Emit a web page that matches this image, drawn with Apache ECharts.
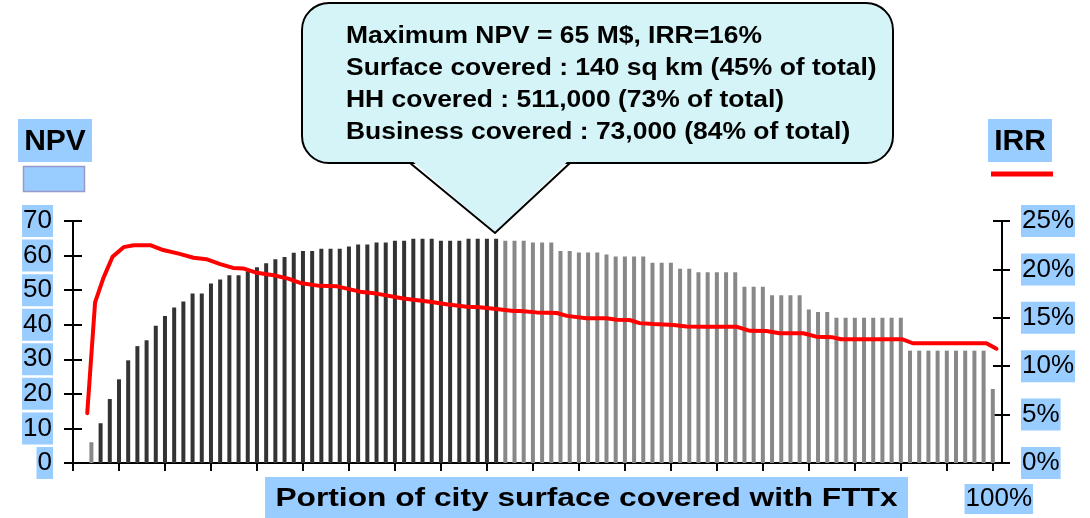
<!DOCTYPE html>
<html>
<head>
<meta charset="utf-8">
<title>NPV / IRR vs FTTx coverage</title>
<script src="https://cdn.jsdelivr.net/npm/echarts@6/dist/echarts.min.js"></script>
<style>
  html, body { margin: 0; padding: 0; background: #fff; }
  #chart { width: 1090px; height: 518px; }
</style>
</head>
<body>
<div id="chart"></div>
<script>
// portion of city surface covered (%) for each NPV bar
const npvCoverage = [2, 3, 4, 5, 6, 7, 8, 9, 10, 11, 12, 13, 14, 15, 16, 17, 18, 19, 20, 21,
  22, 23, 24, 25, 26, 27, 28, 29, 30, 31, 32, 33, 34, 35, 36, 37, 38, 39, 40, 41,
  42, 43, 44, 45, 46, 47, 48, 49, 50, 51, 52, 53, 54, 55, 56, 57, 58, 59, 60, 61,
  62, 63, 64, 65, 66, 67, 68, 69, 70, 71, 72, 73, 74, 75, 76, 77, 78, 79, 80, 81,
  82, 83, 84, 85, 86, 87, 88, 89, 90, 91, 92, 93, 94, 95, 96, 97, 98, 99, 100];
// NPV in M$
const npvValues = [6, 11.5, 18.5, 24.2, 29.7, 33.8, 35.5, 39.7, 42.5, 45,
  46.7, 49, 49, 51.9, 53.1, 54.3, 54.3, 55.5, 56.6, 57.8,
  58.9, 59.6, 60.8, 61.3, 61.3, 62, 62, 62, 62.6, 63.2,
  63.2, 63.8, 63.8, 64.3, 64.3, 64.9, 64.9, 64.9, 64.3, 64.3,
  64.3, 64.9, 64.9, 64.9, 64.9, 64.3, 64.3, 64.3, 63.8, 63.8,
  63.8, 61.3, 61.3, 60.9, 60.9, 60.9, 60.3, 59.7, 59.7, 59.7,
  59.7, 57.9, 57.9, 57.9, 56.2, 56.2, 55.2, 55.2, 55.2, 55.2,
  55.2, 51, 51, 51, 48.5, 48.5, 48.5, 48.5, 44.4, 43.7,
  43.7, 42, 42, 42, 42, 42, 42, 42, 42, 32.5,
  32.5, 32.5, 32.5, 32.5, 32.5, 32.5, 32.5, 32.5, 21.4];
// bars up to the maximum NPV are drawn dark
const darkRange = [3, 46];

// IRR curve (%)
const irrCoverage = [1.55, 2.4, 3.3, 4.3, 5.5, 6.6, 8.4, 9.8, 11.6, 13.1, 14.5, 16, 17.4, 18.5, 20,
  21.8, 23.4, 24.7, 26.8, 28.7, 31.2, 33, 35.9, 38.8, 40.6, 42.8, 44.2, 46, 47.9, 48.6,
  50.4, 52.6, 53.7, 55.8, 58, 59.1, 60.5, 61.6, 63.1, 65.3, 66.7, 68.9, 72.1, 73.6, 75.4,
  76.8, 79.4, 80.8, 82.6, 83.5, 86.2, 90.2, 91.3, 93.9, 99.3, 100.4];
const irrValues = [5.15, 16.6, 19.1, 21.3, 22.3, 22.5, 22.5, 22.0, 21.6, 21.2, 21.05, 20.55, 20.15, 20.1, 19.65,
  19.4, 19.05, 18.6, 18.3, 18.25, 17.7, 17.5, 17.0, 16.65, 16.4, 16.15, 16.1, 15.9, 15.7, 15.7,
  15.56, 15.5, 15.2, 14.95, 14.95, 14.8, 14.77, 14.45, 14.35, 14.25, 14.1, 14.08, 14.08, 13.65, 13.63,
  13.4, 13.4, 13.05, 12.98, 12.78, 12.78, 12.78, 12.37, 12.37, 12.37, 11.8];

// ticks / labels
const xTicks = [0, 5, 10, 15, 20, 25, 30, 35, 40, 45, 50, 55, 60, 65, 70, 75, 80, 85, 90, 95, 100];
const xLabels = [100];

const calloutLines = [
  'Maximum NPV = 65 M$, IRR=16%',
  'Surface covered : 140 sq km (45% of total)',
  'HH covered : 511,000 (73% of total)',
  'Business covered : 73,000 (84% of total)'
];
const xTitle = 'Portion of city surface covered with FTTx';

const FONT = "'Liberation Sans', Arial, sans-serif";
const BLUE = '#99ccff';
const CALLOUT_FILL = '#d4f4f7';

let labelStyle = {
  fontFamily: FONT,
  fontSize: 26,
  color: '#000',
  backgroundColor: BLUE,
  padding: [2, 1, 2, 1],
  lineHeight: 28
};

let tickStyle = { color: '#000', width: 2 };
let lineStyle = { color: '#000', width: 2 };

let myChart = echarts.init(document.getElementById('chart'));

let option = {
  backgroundColor: '#fff',
  animation: false,
  grid: {
    left: 73,
    right: 88,
    top: 221,
    bottom: 55,
    containLabel: false,
    outerBoundsMode: 'none'
  },
  xAxis: [
    {
      type: 'value',
      min: 0,
      max: 101,
      position: 'bottom',
      axisLine: { show: true, onZero: false, lineStyle: lineStyle },
      axisTick: { show: true, length: 8, lineStyle: tickStyle, customValues: xTicks },
      axisLabel: {
        customValues: xLabels,
        margin: 22,
        formatter: (v) => '{s|}{b|' + v + '%}',
        rich: {
          s: { width: 12 },
          b: labelStyle
        }
      },
      splitLine: { show: false }
    },
    {
      // second copy of the axis so the ticks cross the line
      type: 'value',
      min: 0,
      max: 101,
      position: 'bottom',
      axisLine: { show: true, onZero: false, lineStyle: lineStyle },
      axisTick: { show: true, inside: true, length: 8, lineStyle: tickStyle, customValues: xTicks },
      axisLabel: { show: false },
      splitLine: { show: false }
    }
  ],
  yAxis: [
    {
      type: 'value',
      min: 0,
      max: 70,
      interval: 10,
      position: 'left',
      axisLine: { show: true, onZero: false, lineStyle: lineStyle },
      axisTick: { show: true, length: 9, lineStyle: tickStyle },
      axisLabel: Object.assign({ margin: 20 }, labelStyle),
      splitLine: { show: false }
    },
    {
      type: 'value',
      min: 0,
      max: 25,
      interval: 5,
      position: 'right',
      axisLine: { show: true, onZero: false, lineStyle: lineStyle },
      axisTick: { show: true, length: 8, lineStyle: tickStyle },
      axisLabel: Object.assign({ margin: 19, formatter: '{value}%' }, labelStyle),
      splitLine: { show: false }
    },
    {
      type: 'value',
      min: 0,
      max: 70,
      interval: 10,
      position: 'left',
      axisLine: { show: false, onZero: false },
      axisTick: { show: true, inside: true, length: 9, lineStyle: tickStyle },
      axisLabel: { show: false },
      splitLine: { show: false }
    },
    {
      type: 'value',
      min: 0,
      max: 25,
      interval: 5,
      position: 'right',
      axisLine: { show: false, onZero: false },
      axisTick: { show: true, inside: true, length: 9, lineStyle: tickStyle },
      axisLabel: { show: false },
      splitLine: { show: false }
    }
  ],
  series: [
    {
      name: 'NPV',
      type: 'bar',
      xAxisIndex: 0,
      yAxisIndex: 0,
      barWidth: 4,
      data: npvCoverage.map((x, i) => [x, npvValues[i]]),
      itemStyle: {
        color: (p) => (p.value[0] >= darkRange[0] && p.value[0] <= darkRange[1]) ? '#333333' : '#888888'
      },
      z: 2
    },
    {
      name: 'IRR',
      type: 'line',
      xAxisIndex: 0,
      yAxisIndex: 1,
      data: irrCoverage.map((x, i) => [x, irrValues[i]]),
      symbol: 'none',
      clip: false,
      lineStyle: { color: '#ff0000', width: 4, join: 'round', cap: 'round' },
      z: 3
    }
  ],
  graphic: [
    // callout bubble: rounded box + pointer
    {
      type: 'rect',
      shape: { x: 302, y: 3, width: 591, height: 160, r: 27 },
      style: { fill: CALLOUT_FILL, stroke: '#000', lineWidth: 2 },
      z: 10
    },
    {
      type: 'polygon',
      shape: { points: [[411, 160], [495, 232], [569, 160]] },
      style: { fill: CALLOUT_FILL },
      z: 11
    },
    {
      type: 'polyline',
      shape: { points: [[410, 163], [495, 233], [570, 163]] },
      style: { stroke: '#000', lineWidth: 2, fill: null },
      z: 11
    },
    {
      type: 'text',
      x: 346,
      y: 21,
      scaleX: 1.15,
      style: {
        text: calloutLines.join('\n'),
        font: 'bold 23px ' + FONT,
        fill: '#000',
        lineHeight: 32,
        align: 'left',
        verticalAlign: 'top'
      },
      z: 12
    },
    // NPV heading + legend swatch
    { type: 'rect', shape: { x: 18, y: 119, width: 74, height: 43 }, style: { fill: BLUE }, z: 10 },
    {
      type: 'text', x: 55, y: 141.5,
      style: { text: 'NPV', font: 'bold 30px ' + FONT, fill: '#000', align: 'center', verticalAlign: 'middle' },
      z: 11
    },
    { type: 'rect', shape: { x: 23.5, y: 166.5, width: 61, height: 25 }, style: { fill: BLUE, stroke: '#9999cc', lineWidth: 1.5 }, z: 10 },
    // IRR heading + legend swatch
    { type: 'rect', shape: { x: 988, y: 119, width: 64, height: 43 }, style: { fill: BLUE }, z: 10 },
    {
      type: 'text', x: 1020, y: 141.5,
      style: { text: 'IRR', font: 'bold 30px ' + FONT, fill: '#000', align: 'center', verticalAlign: 'middle' },
      z: 11
    },
    { type: 'line', shape: { x1: 991, y1: 174, x2: 1053, y2: 174 }, style: { stroke: '#ff0000', lineWidth: 5 }, z: 10 },
    // x axis title
    { type: 'rect', shape: { x: 265, y: 477, width: 643, height: 41 }, style: { fill: BLUE }, z: 10 },
    {
      type: 'text', x: 586.5, y: 498.5,
      scaleX: 1.22,
      style: { text: xTitle, font: 'bold 26px ' + FONT, fill: '#000', align: 'center', verticalAlign: 'middle' },
      z: 11
    }
  ]
};

myChart.setOption(option);
</script>
</body>
</html>
